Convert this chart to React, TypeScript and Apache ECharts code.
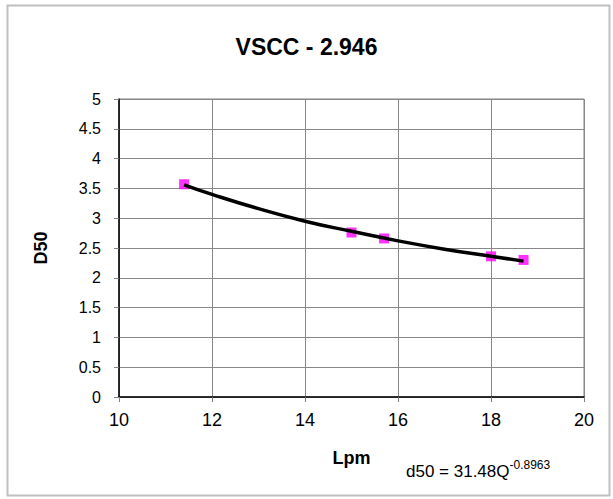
import React, { useEffect, useRef } from "react";
import * as echarts from "echarts";

const titleText = "VSCC - 2.946";
const xName = "Lpm";
const yName = "D50";
const measured: [number, number][] = [
  [11.4, 3.57],
  [15.0, 2.76],
  [15.7, 2.66],
  [18.0, 2.36],
  [18.7, 2.3],
];
const trendX = [11.4, 12, 13, 14, 15, 16, 17, 18, 18.7];
const trendY = [3.56, 3.4, 3.16, 2.95, 2.78, 2.62, 2.48, 2.36, 2.28];
const eqMain = "d50 = 31.48Q";
const eqExp = "-0.8963";

export default function App() {
  const ref = useRef<HTMLDivElement>(null);
  useEffect(() => {
    if (!ref.current) return;
    const chart = echarts.init(ref.current, undefined, { renderer: "svg" });
    const font = "'Liberation Sans', Arial, sans-serif";
    chart.setOption({
      animation: false,
      backgroundColor: "#ffffff",
      textStyle: { fontFamily: font },
      title: {
        text: titleText,
        left: "center",
        top: 30,
        textStyle: { fontFamily: font, fontSize: 23, fontWeight: "bold", color: "#000" },
      },
      grid: {
        left: 119,
        right: 29,
        top: 99,
        bottom: 102,
        show: true,
        borderColor: "#808080",
        borderWidth: 1,
      },
      xAxis: {
        type: "value",
        min: 10,
        max: 20,
        interval: 2,
        name: xName,
        nameLocation: "middle",
        nameGap: 52,
        nameTextStyle: { fontFamily: font, fontSize: 18, fontWeight: "bold", color: "#000" },
        axisLine: { show: true, lineStyle: { color: "#000", width: 1.5 } },
        axisTick: { show: true, length: 5, lineStyle: { color: "#808080" } },
        axisLabel: { fontFamily: font, fontSize: 18, color: "#000", margin: 14 },
        splitLine: { show: true, lineStyle: { color: "#888888", width: 1 } },
      },
      yAxis: {
        type: "value",
        min: 0,
        max: 5,
        interval: 0.5,
        name: yName,
        nameLocation: "middle",
        nameGap: 69,
        nameRotate: 90,
        nameTextStyle: { fontFamily: font, fontSize: 18, fontWeight: "bold", color: "#000" },
        axisLine: { show: true, lineStyle: { color: "#000", width: 1.5 } },
        axisTick: { show: true, length: 5, lineStyle: { color: "#808080" } },
        axisLabel: { fontFamily: font, fontSize: 16, color: "#000", margin: 18 },
        splitLine: { show: true, lineStyle: { color: "#888888", width: 1 } },
      },
      series: [
        {
          type: "line",
          data: trendX.map((x, i) => [x, trendY[i]]),
          smooth: true,
          showSymbol: false,
          symbol: "none",
          lineStyle: { color: "#000", width: 3.5 },
          z: 3,
        },
        {
          type: "scatter",
          data: measured,
          symbol: "rect",
          symbolSize: 10,
          itemStyle: { color: "#FF00FF" },
          z: 2,
        },
      ],
      graphic: [
        {
          type: "rect",
          left: 5,
          top: 3,
          shape: { width: 602, height: 490 },
          style: { fill: "none", stroke: "#c0c0c0", lineWidth: 2 },
          silent: true,
          z: -1,
        },
        {
          type: "text",
          left: 406,
          top: 456,
          style: {
            text: "{a|" + eqMain + "}{b|" + eqExp + "}",
            rich: {
              a: { fontFamily: font, fontSize: 17, color: "#000", verticalAlign: "bottom", lineHeight: 24 },
              b: { fontFamily: font, fontSize: 12, color: "#000", verticalAlign: "top", lineHeight: 24, padding: [3, 0, 0, 0] },
            },
          },
        },
      ],
    });
    return () => chart.dispose();
  }, []);
  return (
    <div
      ref={ref}
      style={{ position: "fixed", left: 0, top: 0, width: 613, height: 499 }}
    />
  );
}
